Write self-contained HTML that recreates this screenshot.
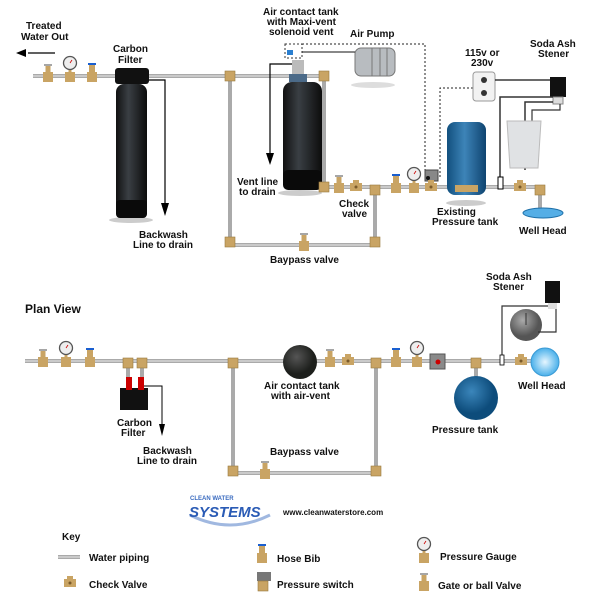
<!DOCTYPE html>
<html><head><meta charset="utf-8"><style>
body{margin:0;background:#fff;width:600px;height:611px;overflow:hidden}
svg{display:block}
text{font-family:"Liberation Sans",sans-serif;font-weight:bold;font-size:10px;fill:#111}
</style></head><body>
<svg width="600" height="611" viewBox="0 0 600 611">
<defs>
<linearGradient id="tank" x1="0" x2="1"><stop offset="0" stop-color="#111"/><stop offset=".4" stop-color="#3a3f44"/><stop offset="1" stop-color="#0c0c0c"/></linearGradient>
<linearGradient id="blue" x1="0" x2="1"><stop offset="0" stop-color="#12507e"/><stop offset=".45" stop-color="#3d84b8"/><stop offset="1" stop-color="#0f4470"/></linearGradient>
<radialGradient id="rb" cx=".4" cy=".35"><stop offset="0" stop-color="#3b86bb"/><stop offset="1" stop-color="#0d4c7b"/></radialGradient>
<radialGradient id="rg" cx=".4" cy=".35"><stop offset="0" stop-color="#aaa"/><stop offset="1" stop-color="#555"/></radialGradient>
<radialGradient id="rd" cx=".4" cy=".35"><stop offset="0" stop-color="#555"/><stop offset="1" stop-color="#1d1f1c"/></radialGradient>
<radialGradient id="rw" cx=".5" cy=".5"><stop offset="0" stop-color="#e6f6ff"/><stop offset="1" stop-color="#4ab0ea"/></radialGradient>
<g id="fit"><rect x="-5" y="-5" width="10" height="10" fill="#c9a464" stroke="#9a7a3e" stroke-width=".6"/></g>
<g id="valve"><rect x="-5" y="-4" width="10" height="10" fill="#c9a464"/><rect x="-2.5" y="-10" width="5" height="7" fill="#c9a464"/><line x1="-4" y1="-11" x2="4" y2="-11" stroke="#888" stroke-width="1.5"/></g>
<g id="hose"><rect x="-5" y="-4" width="10" height="10" fill="#c9a464"/><rect x="-3" y="-11" width="6" height="8" fill="#c9a464"/><line x1="-4" y1="-12" x2="4" y2="-12" stroke="#1a5fd0" stroke-width="2"/></g>
<g id="gauge"><rect x="-5" y="-4" width="10" height="10" fill="#c9a464"/><rect x="-1.5" y="-7" width="3" height="4" fill="#c9a464"/><circle cx="0" cy="-13" r="6.5" fill="#eee" stroke="#555" stroke-width="1.3"/><line x1="0" y1="-13" x2="2" y2="-16" stroke="#c00" stroke-width=".8"/></g>
<g id="check"><rect x="-6" y="-4" width="12" height="8" fill="#c9a464"/><rect x="-3" y="-7" width="6" height="4" fill="#c9a464"/><circle cx="0" cy="0" r="1.5" fill="#7a5a2a"/></g>
</defs>
<g stroke="#aaa" stroke-width="4" fill="none">
<polyline points="33,76 324,76 324,187 540,187 540,208"/>
<polyline points="230,76 230,245 375,245 375,187"/>
<polyline points="25,361 555,361"/>
<polyline points="128,361 128,388"/><polyline points="142,361 142,388"/>
<polyline points="233,361 233,473 376,473 376,361"/>
<line x1="476" y1="361" x2="476" y2="380"/>
<line x1="58" y1="557" x2="80" y2="557"/>
</g>
<g stroke="#ddd" stroke-width="1.2" fill="none">
<line x1="33" y1="76" x2="324" y2="76"/><line x1="324" y1="187" x2="540" y2="187"/><line x1="230" y1="245" x2="375" y2="245"/>
<line x1="25" y1="361" x2="555" y2="361"/><line x1="233" y1="473" x2="376" y2="473"/>
<line x1="58" y1="557" x2="80" y2="557"/>
</g>
<line x1="55" y1="53" x2="28" y2="53" stroke="#000" stroke-width="1.3"/><polygon points="16,53 26,49 26,57" fill="#000"/>
<polyline points="148,80 165,80 165,205" stroke="#000" stroke-width="1.2" fill="none"/><polygon points="161,203 169,203 165,216" fill="#000"/>
<polyline points="298,64 270,64 270,155" stroke="#000" stroke-width="1.2" fill="none"/><polygon points="266,153 274,153 270,165" fill="#000"/>
<polyline points="302,44 425,44 425,177" stroke="#222" stroke-width="1" stroke-dasharray="2,2" fill="none"/>
<polyline points="473,88 440,88 440,177" stroke="#222" stroke-width="1" stroke-dasharray="2,2" fill="none"/>
<polyline points="148,386 144,386 162,386 162,425" stroke="#000" stroke-width="1" fill="none"/><polygon points="159,424 165,424 162,436" fill="#000"/>
<ellipse cx="131" cy="220" rx="22" ry="3" fill="#ccc"/>
<rect x="115" y="68" width="34" height="16" rx="3" fill="#111"/>
<rect x="116" y="84" width="31" height="134" rx="8" fill="url(#tank)"/>
<rect x="116" y="200" width="31" height="18" rx="4" fill="#0a0a0a"/>
<ellipse cx="300" cy="193" rx="22" ry="3" fill="#ccc"/>
<rect x="292" y="60" width="12" height="16" fill="#bbb"/><rect x="289" y="74" width="18" height="8" fill="#4b6a88"/>
<rect x="283" y="82" width="39" height="108" rx="9" fill="url(#tank)"/>
<rect x="283" y="170" width="39" height="20" rx="5" fill="#0a0a0a"/>
<rect x="285" y="44" width="17" height="14" fill="none" stroke="#333" stroke-dasharray="2,2"/><rect x="287" y="50" width="6" height="5" fill="#2a7fd0"/>
<ellipse cx="373" cy="85" rx="22" ry="3" fill="#ddd"/>
<rect x="355" y="48" width="40" height="28" rx="6" fill="#b8bcc0" stroke="#777"/>
<line x1="372" y1="48" x2="372" y2="76" stroke="#777"/><line x1="380" y1="48" x2="380" y2="76" stroke="#777"/><line x1="387" y1="48" x2="387" y2="76" stroke="#777"/>
<line x1="302" y1="52" x2="355" y2="52" stroke="#111" stroke-width="1"/>
<rect x="473" y="72" width="22" height="29" rx="3" fill="#f2f2f2" stroke="#999"/>
<circle cx="484" cy="80" r="3" fill="#333"/><circle cx="484" cy="93" r="3" fill="#333"/>
<polyline points="495,80 552,80" stroke="#111" stroke-width="1.2" fill="none"/>
<rect x="550" y="77" width="16" height="20" fill="#111"/><rect x="553" y="97" width="10" height="7" fill="#ddd" stroke="#888"/>
<polyline points="553,97 500,97 500,180" stroke="#333" stroke-width="1.5" fill="none"/>
<polyline points="553,102 525,102 525,170" stroke="#333" stroke-width="1.5" fill="none"/>
<polyline points="560,104 560,110 532,110 532,130" stroke="#333" stroke-width="1.2" fill="none"/>
<path d="M507,121 L541,121 L538,168 L510,168 Z" fill="#e0e2e4" stroke="#bbb"/>
<rect x="498" y="177" width="5" height="12" fill="#fff" stroke="#000"/>
<ellipse cx="466" cy="203" rx="20" ry="3" fill="#ccc"/>
<rect x="447" y="122" width="39" height="73" rx="8" fill="url(#blue)"/>
<rect x="455" y="185" width="23" height="7" fill="#c9a464"/>
<ellipse cx="543" cy="213" rx="20" ry="5" fill="#55aee6" stroke="#1d6fa8"/>
<rect x="425" y="170" width="13" height="11" fill="#888" stroke="#444"/><circle cx="428" cy="178" r="2" fill="#111"/>
<use href="#valve" x="48" y="76"/><use href="#gauge" x="70" y="76"/><use href="#hose" x="92" y="76"/>
<use href="#fit" x="230" y="76"/><use href="#fit" x="324" y="76"/><use href="#fit" x="324" y="187"/>
<use href="#valve" x="339" y="187"/><use href="#check" x="356" y="187"/><use href="#fit" x="375" y="190"/>
<use href="#hose" x="396" y="187"/><use href="#gauge" x="414" y="187"/><use href="#check" x="431" y="187"/>
<use href="#check" x="520" y="187"/><use href="#fit" x="540" y="190"/>
<use href="#fit" x="230" y="242"/><use href="#fit" x="375" y="242"/><use href="#valve" x="304" y="245"/>
<use href="#valve" x="43" y="361"/><use href="#gauge" x="66" y="361"/><use href="#hose" x="90" y="361"/>
<use href="#fit" x="128" y="363"/><use href="#fit" x="142" y="363"/>
<rect x="120" y="388" width="28" height="22" fill="#111"/><rect x="126" y="377" width="6" height="13" fill="#c00"/><rect x="138" y="377" width="6" height="13" fill="#c00"/>
<use href="#fit" x="233" y="363"/><use href="#fit" x="376" y="363"/>
<use href="#fit" x="233" y="471"/><use href="#fit" x="376" y="471"/><use href="#valve" x="265" y="473"/>
<circle cx="300" cy="362" r="17" fill="url(#rd)"/>
<use href="#valve" x="330" y="361"/><use href="#check" x="348" y="361"/>
<use href="#hose" x="396" y="361"/><use href="#gauge" x="417" y="361"/>
<rect x="430" y="354" width="15" height="15" fill="#8a8a8a" stroke="#555"/><circle cx="438" cy="362" r="2.5" fill="#c00"/>
<use href="#fit" x="476" y="363"/><use href="#check" x="521" y="361"/>
<circle cx="476" cy="398" r="22" fill="url(#rb)"/>
<circle cx="545" cy="362" r="14" fill="url(#rw)" stroke="#3a9ad4"/>
<circle cx="526" cy="325" r="16" fill="url(#rg)"/>
<rect x="545" y="281" width="15" height="22" fill="#111"/><rect x="548" y="303" width="9" height="6" fill="#ddd"/>
<polyline points="548,306 502,306 502,355" stroke="#333" stroke-width="1.2" fill="none"/>
<polyline points="556,309 556,332 538,332" stroke="#333" stroke-width="1.2" fill="none"/>
<line x1="526" y1="313" x2="526" y2="325" stroke="#333"/>
<rect x="500" y="355" width="4" height="10" fill="#fff" stroke="#000" stroke-width=".8"/>
<path d="M190,515 Q230,535 270,515" stroke="#a0b8e0" stroke-width="3" fill="none"/>
<text x="190" y="500" style="font-size:6px;fill:#3a6bc0">CLEAN WATER</text>
<text x="189" y="517" style="font-size:15px;font-style:italic;fill:#2a5bb5">SYSTEMS</text>
<text x="283" y="515" style="font-size:8px">www.cleanwaterstore.com</text>
<use href="#check" x="70" y="583"/>
<use href="#hose" x="262" y="557"/>
<rect x="257" y="572" width="14" height="9" fill="#777"/><use href="#fit" x="263" y="586"/>
<use href="#gauge" x="424" y="557"/>
<use href="#valve" x="424" y="585"/>
<text x="26" y="29">Treated</text><text x="21" y="40">Water Out</text>
<text x="113" y="52">Carbon</text><text x="118" y="63">Filter</text>
<text x="263" y="15">Air contact tank</text><text x="267" y="25">with Maxi-vent</text><text x="269" y="35">solenoid vent</text>
<text x="350" y="37">Air Pump</text>
<text x="465" y="56">115v or</text><text x="471" y="66">230v</text>
<text x="530" y="47">Soda Ash</text><text x="538" y="57">Stener</text>
<text x="237" y="185">Vent line</text><text x="239" y="195">to drain</text>
<text x="339" y="207">Check</text><text x="342" y="217">valve</text>
<text x="437" y="215">Existing</text><text x="432" y="225">Pressure tank</text>
<text x="519" y="234">Well Head</text>
<text x="139" y="238">Backwash</text><text x="133" y="248">Line to drain</text>
<text x="270" y="263">Baypass valve</text>
<text x="25" y="313" style="font-size:12px">Plan View</text>
<text x="486" y="280">Soda Ash</text><text x="493" y="290">Stener</text>
<text x="264" y="389">Air contact tank</text><text x="271" y="399">with air-vent</text>
<text x="518" y="389">Well Head</text>
<text x="432" y="433">Pressure tank</text>
<text x="117" y="426">Carbon</text><text x="121" y="436">Filter</text>
<text x="143" y="454">Backwash</text><text x="137" y="464">Line to drain</text>
<text x="270" y="455">Baypass valve</text>
<text x="62" y="540">Key</text>
<text x="89" y="561">Water piping</text>
<text x="89" y="588">Check Valve</text>
<text x="277" y="562">Hose Bib</text>
<text x="277" y="588">Pressure switch</text>
<text x="440" y="560">Pressure Gauge</text>
<text x="438" y="589">Gate or ball Valve</text>
</svg>
</body></html>
